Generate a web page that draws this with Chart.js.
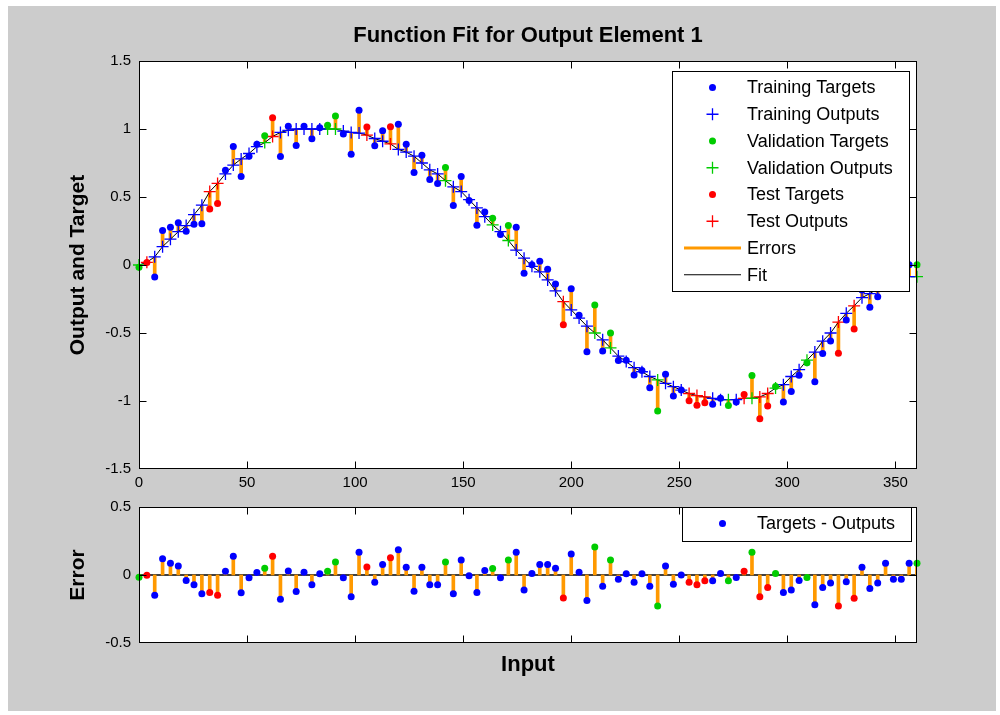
<!DOCTYPE html>
<html>
<head>
<meta charset="utf-8">
<title>Function Fit for Output Element 1</title>
<script src="https://cdn.jsdelivr.net/npm/chart.js@4.4.1/dist/chart.umd.min.js"></script>
<style>
  html, body { margin: 0; padding: 0; background: #fff; }
  #fig { position: absolute; left: 8px; top: 6px; width: 988px; height: 705px; background: #cccccc; }
  canvas { position: absolute; left: 0; }
  #fitChart { top: 0; }
  #errChart { top: 490px; }
</style>
</head>
<body>
<div id="fig"></div>
<canvas id="fitChart" width="1000" height="490"></canvas>
<canvas id="errChart" width="1000" height="225"></canvas>
<script>
'use strict';

// input samples (0..360, 100 points)
const inputs = [
    0, 3.64, 7.27, 10.91, 14.55, 18.18, 21.82, 25.45, 29.09, 32.73,
    36.36, 40, 43.64, 47.27, 50.91, 54.55, 58.18, 61.82, 65.45, 69.09,
    72.73, 76.36, 80, 83.64, 87.27, 90.91, 94.55, 98.18, 101.82, 105.45,
    109.09, 112.73, 116.36, 120, 123.64, 127.27, 130.91, 134.55, 138.18, 141.82,
    145.45, 149.09, 152.73, 156.36, 160, 163.64, 167.27, 170.91, 174.55, 178.18,
    181.82, 185.45, 189.09, 192.73, 196.36, 200, 203.64, 207.27, 210.91, 214.55,
    218.18, 221.82, 225.45, 229.09, 232.73, 236.36, 240, 243.64, 247.27, 250.91,
    254.55, 258.18, 261.82, 265.45, 269.09, 272.73, 276.36, 280, 283.64, 287.27,
    290.91, 294.55, 298.18, 301.82, 305.45, 309.09, 312.73, 316.36, 320, 323.64,
    327.27, 330.91, 334.55, 338.18, 341.82, 345.45, 349.09, 352.73, 356.36, 360
];

// T = training, V = validation, E = test
const split = [
    'V', 'E', 'T', 'T', 'T', 'T', 'T', 'T', 'T', 'E',
    'E', 'T', 'T', 'T', 'T', 'T', 'V', 'E', 'T', 'T',
    'T', 'T', 'T', 'T', 'V', 'V', 'T', 'T', 'T', 'E',
    'T', 'T', 'E', 'T', 'T', 'T', 'T', 'T', 'T', 'V',
    'T', 'T', 'T', 'T', 'T', 'V', 'T', 'V', 'T', 'T',
    'T', 'T', 'T', 'T', 'E', 'T', 'T', 'T', 'V', 'T',
    'V', 'T', 'T', 'T', 'T', 'T', 'V', 'T', 'T', 'T',
    'E', 'E', 'E', 'T', 'T', 'V', 'T', 'E', 'V', 'E',
    'E', 'V', 'T', 'T', 'T', 'V', 'T', 'T', 'T', 'E',
    'T', 'E', 'T', 'T', 'T', 'T', 'T', 'T', 'T', 'V'
];

const outputs = [
    0.00, 0.02, 0.06, 0.135, 0.19, 0.245, 0.29, 0.37, 0.44, 0.54,
    0.60, 0.67, 0.735, 0.78, 0.82, 0.87, 0.90, 0.945, 0.975, 0.99,
    1.0, 1.0, 1.0, 1.0, 1.0, 1.0, 0.985, 0.975, 0.97, 0.955,
    0.93, 0.91, 0.89, 0.85, 0.83, 0.80, 0.75, 0.70, 0.67, 0.62,
    0.575, 0.54, 0.48, 0.42, 0.355, 0.295, 0.245, 0.18, 0.11, 0.05,
    -0.01, -0.05, -0.11, -0.19, -0.27, -0.33, -0.39, -0.45, -0.50, -0.55,
    -0.61, -0.67, -0.71, -0.755, -0.785, -0.82, -0.845, -0.87, -0.895, -0.92,
    -0.945, -0.96, -0.97, -0.98, -0.99, -0.99, -0.99, -0.98, -0.98, -0.97,
    -0.945, -0.905, -0.88, -0.82, -0.77, -0.70, -0.64, -0.56, -0.50, -0.42,
    -0.355, -0.30, -0.24, -0.21, -0.175, -0.14, -0.11, -0.095, -0.086, -0.086
];

// targets - outputs
const errors = [
    -0.016, -0.002, -0.148, 0.119, 0.087, 0.066, -0.041, -0.071, -0.137, -0.128,
    -0.148, 0.027, 0.137, -0.130, -0.021, 0.018, 0.050, 0.137, -0.178, 0.030,
    -0.121, 0.021, -0.071, 0.009, 0.027, 0.096, -0.021, -0.160, 0.167, 0.059,
    -0.053, 0.078, 0.126, 0.185, 0.057, -0.119, 0.057, -0.071, -0.071, 0.096,
    -0.137, 0.110, -0.005, -0.128, 0.034, 0.048, -0.021, 0.110, 0.167, -0.110,
    0.011, 0.078, 0.078, 0.050, -0.169, 0.155, 0.021, -0.187, 0.205, -0.082,
    0.110, -0.032, 0.009, -0.053, 0.009, -0.082, -0.228, 0.066, -0.068, 0.000,
    -0.053, -0.071, -0.043, -0.043, 0.011, -0.043, -0.018, 0.027, 0.167, -0.160,
    -0.091, 0.011, -0.128, -0.110, -0.041, -0.018, -0.219, -0.091, -0.059, -0.228,
    -0.050, -0.171, 0.057, -0.100, -0.059, 0.087, -0.032, -0.032, 0.087, 0.087
];

const xTicks = [0, 50, 100, 150, 200, 250, 300, 350];
const yTicksFit = [-1.5, -1, -0.5, 0, 0.5, 1, 1.5];
const yTicksErr = [-0.5, 0, 0.5];

const BLUE = '#0000ff';
const GREEN = '#00cc00';
const RED = '#ff0000';
const ORANGE = '#ff9900';
const FONT = '"Liberation Sans", Arial, Helvetica, sans-serif';

const groups = [
    { key: 'T', name: 'Training', color: BLUE },
    { key: 'V', name: 'Validation', color: GREEN },
    { key: 'E', name: 'Test', color: RED }
];

const targets = outputs.map((o, i) => +(o + errors[i]).toFixed(3));

function pick(key, values) {
    const pts = [];
    for (let i = 0; i < inputs.length; i++) {
        if (split[i] === key) pts.push({ x: inputs[i], y: values[i] });
    }
    return pts;
}

Chart.defaults.font.family = FONT;
Chart.defaults.color = '#000';

// white axes box, black frame, inward ticks on all four sides, matlab style legend
const axesBox = {
    id: 'axesBox',
    beforeDraw(chart) {
        const { ctx, chartArea: a } = chart;
        ctx.save();
        ctx.fillStyle = '#fff';
        ctx.fillRect(a.left, a.top, a.right - a.left, a.bottom - a.top);
        ctx.restore();
    },
    beforeDatasetsDraw(chart, args, opts) {
        if (!opts.zeroLine) return;
        const { ctx, chartArea: a, scales } = chart;
        const py = scales.y.getPixelForValue(0);
        ctx.save();
        ctx.strokeStyle = '#000';
        ctx.lineWidth = 1.5;
        ctx.beginPath();
        ctx.moveTo(a.left, py);
        ctx.lineTo(a.right, py);
        ctx.stroke();
        ctx.restore();
    },
    afterDatasetsDraw(chart, args, opts) {
        const { ctx, chartArea: a, scales: { x, y } } = chart;
        const L = Math.round(a.left) + 0.5, R = Math.round(a.right) - 0.5;
        const T = Math.round(a.top) + 0.5, B = Math.round(a.bottom) - 0.5;
        const len = 7;
        ctx.save();
        ctx.strokeStyle = '#000';
        ctx.lineWidth = 1;
        ctx.strokeRect(L, T, R - L, B - T);
        ctx.beginPath();
        for (const t of x.ticks) {
            if (t.value <= x.min || t.value >= x.max) continue;
            const px = Math.round(x.getPixelForValue(t.value)) + 0.5;
            ctx.moveTo(px, B); ctx.lineTo(px, B - len);
            ctx.moveTo(px, T); ctx.lineTo(px, T + len);
        }
        for (const t of y.ticks) {
            if (t.value <= y.min || t.value >= y.max) continue;
            const py = Math.round(y.getPixelForValue(t.value)) + 0.5;
            ctx.moveTo(L, py); ctx.lineTo(L + len, py);
            ctx.moveTo(R, py); ctx.lineTo(R - len, py);
        }
        ctx.stroke();

        const lg = opts.legend;
        if (lg) {
            ctx.fillStyle = '#fff';
            ctx.fillRect(lg.x, lg.y, lg.w, lg.h);
            ctx.strokeRect(lg.x, lg.y, lg.w, lg.h);
            ctx.font = '18px ' + FONT;
            ctx.textBaseline = 'middle';
            ctx.textAlign = 'left';
            lg.items.forEach((it, k) => {
                const yy = lg.row0 + k * lg.dy;
                if (it.kind === 'dot') {
                    ctx.fillStyle = it.color;
                    ctx.beginPath();
                    ctx.arc(lg.markX, yy, 3.5, 0, Math.PI * 2);
                    ctx.fill();
                } else if (it.kind === 'plus') {
                    ctx.strokeStyle = it.color;
                    ctx.lineWidth = 1.3;
                    ctx.beginPath();
                    ctx.moveTo(lg.markX - 6, yy); ctx.lineTo(lg.markX + 6, yy);
                    ctx.moveTo(lg.markX, yy - 6); ctx.lineTo(lg.markX, yy + 6);
                    ctx.stroke();
                } else {
                    ctx.strokeStyle = it.color;
                    ctx.lineWidth = it.width;
                    ctx.beginPath();
                    ctx.moveTo(lg.lineX0, yy); ctx.lineTo(lg.lineX1, yy);
                    ctx.stroke();
                }
                ctx.fillStyle = '#000';
                ctx.fillText(it.label, lg.textX, yy + 1);
            });
        }
        ctx.restore();
    }
};

function setTicks(values) {
    return (scale) => { scale.ticks = values.map((v) => ({ value: v })); };
}

const tickFont = { size: 15 };
const labelFont = { size: 21, weight: 'bold' };

// ---------- top: function fit ----------
const fitDatasets = [
    {
        type: 'bar',
        label: 'Errors',
        data: inputs.map((x, i) => ({ x: x, y: [outputs[i], targets[i]] })),
        backgroundColor: ORANGE,
        borderWidth: 0,
        barThickness: 3,
        order: 6
    },
    {
        type: 'line',
        label: 'Fit',
        data: inputs.map((x, i) => ({ x: x, y: outputs[i] })),
        borderColor: '#000',
        borderWidth: 1,
        pointRadius: 0,
        tension: 0,
        order: 5
    }
];
for (const g of groups) {
    fitDatasets.push({
        type: 'scatter',
        label: g.name + ' Outputs',
        data: pick(g.key, outputs),
        pointStyle: 'cross',
        pointRadius: 6,
        pointBorderColor: g.color,
        pointBorderWidth: 1.3,
        borderColor: g.color,
        order: 3,
        clip: false
    });
}
for (const g of groups) {
    fitDatasets.push({
        type: 'scatter',
        label: g.name + ' Targets',
        data: pick(g.key, targets),
        pointStyle: 'circle',
        pointRadius: 3.5,
        pointBackgroundColor: g.color,
        pointBorderWidth: 0,
        backgroundColor: g.color,
        order: 1,
        clip: false
    });
}

const fitLegend = [];
for (const g of groups) {
    fitLegend.push({ kind: 'dot', color: g.color, label: g.name + ' Targets' });
    fitLegend.push({ kind: 'plus', color: g.color, label: g.name + ' Outputs' });
}
fitLegend.push({ kind: 'line', color: ORANGE, width: 3, label: 'Errors' });
fitLegend.push({ kind: 'line', color: '#000', width: 1, label: 'Fit' });

let fitChart = new Chart(document.querySelector('#fitChart'), {
    type: 'scatter',
    data: { datasets: fitDatasets },
    plugins: [axesBox],
    options: {
        responsive: false,
        animation: false,
        devicePixelRatio: 1,
        events: [],
        layout: { padding: { left: 0, right: 83, top: 0, bottom: 0 } },
        scales: {
            x: {
                type: 'linear',
                min: 0,
                max: 360,
                offset: false,
                afterBuildTicks: setTicks(xTicks),
                afterFit: (s) => { s.height = 21; },
                grid: { display: false, drawTicks: false },
                border: { display: false },
                ticks: { padding: 5, font: tickFont, autoSkip: false, maxRotation: 0, callback: (v) => String(v) }
            },
            y: {
                type: 'linear',
                min: -1.5,
                max: 1.5,
                afterBuildTicks: setTicks(yTicksFit),
                afterFit: (s) => { s.width = 139; },
                grid: { display: false, drawTicks: false },
                border: { display: false },
                ticks: { padding: 8, font: tickFont, autoSkip: false, callback: (v) => String(v) },
                title: { display: true, text: 'Output and Target', font: labelFont, padding: { top: 66, bottom: 0 } }
            }
        },
        plugins: {
            legend: { display: false },
            tooltip: { enabled: false },
            title: {
                display: true,
                fullSize: false,
                text: 'Function Fit for Output Element 1',
                color: '#000',
                font: { size: 22, weight: 'bold' },
                padding: { top: 23, bottom: 11.6 }
            },
            axesBox: {
                legend: {
                    x: 672.5, y: 71.5, w: 237, h: 220,
                    row0: 87.5, dy: 26.75,
                    markX: 712.5, lineX0: 684, lineX1: 741, textX: 747,
                    items: fitLegend
                }
            }
        }
    }
});

// ---------- bottom: errors ----------
const errDatasets = [
    {
        type: 'bar',
        label: 'Stems',
        data: inputs.map((x, i) => ({ x: x, y: [0, errors[i]] })),
        backgroundColor: ORANGE,
        borderWidth: 0,
        barThickness: 3,
        order: 6
    }
];
for (const g of groups) {
    errDatasets.push({
        type: 'scatter',
        label: g.name + ' Errors',
        data: pick(g.key, errors),
        pointStyle: 'circle',
        pointRadius: 3.5,
        pointBackgroundColor: g.color,
        pointBorderWidth: 0,
        backgroundColor: g.color,
        order: 1,
        clip: false
    });
}

let errChart = new Chart(document.querySelector('#errChart'), {
    type: 'scatter',
    data: { datasets: errDatasets },
    plugins: [axesBox],
    options: {
        responsive: false,
        animation: false,
        devicePixelRatio: 1,
        events: [],
        layout: { padding: { left: 0, right: 83, top: 7, bottom: 0 } },
        scales: {
            x: {
                type: 'linear',
                min: 0,
                max: 360,
                offset: false,
                afterBuildTicks: setTicks(xTicks),
                afterFit: (s) => { s.height = 72; },
                grid: { display: false, drawTicks: false },
                border: { display: false },
                ticks: { display: false },
                title: { display: true, text: 'Input', font: { size: 22, weight: 'bold' }, padding: { top: 0, bottom: 36.8 } }
            },
            y: {
                type: 'linear',
                min: -0.5,
                max: 0.5,
                afterBuildTicks: setTicks(yTicksErr),
                afterFit: (s) => { s.width = 139; },
                grid: { display: false, drawTicks: false },
                border: { display: false },
                ticks: { padding: 8, font: tickFont, autoSkip: false, callback: (v) => String(v) },
                title: { display: true, text: 'Error', font: labelFont, padding: { top: 66, bottom: 0 } }
            }
        },
        plugins: {
            legend: { display: false },
            tooltip: { enabled: false },
            axesBox: {
                zeroLine: true,
                legend: {
                    x: 682.5, y: 17.5, w: 229, h: 34,
                    row0: 33.5, dy: 0,
                    markX: 722.5, lineX0: 0, lineX1: 0, textX: 757,
                    items: [{ kind: 'dot', color: BLUE, label: 'Targets - Outputs' }]
                }
            }
        }
    }
});
</script>
</body>
</html>
